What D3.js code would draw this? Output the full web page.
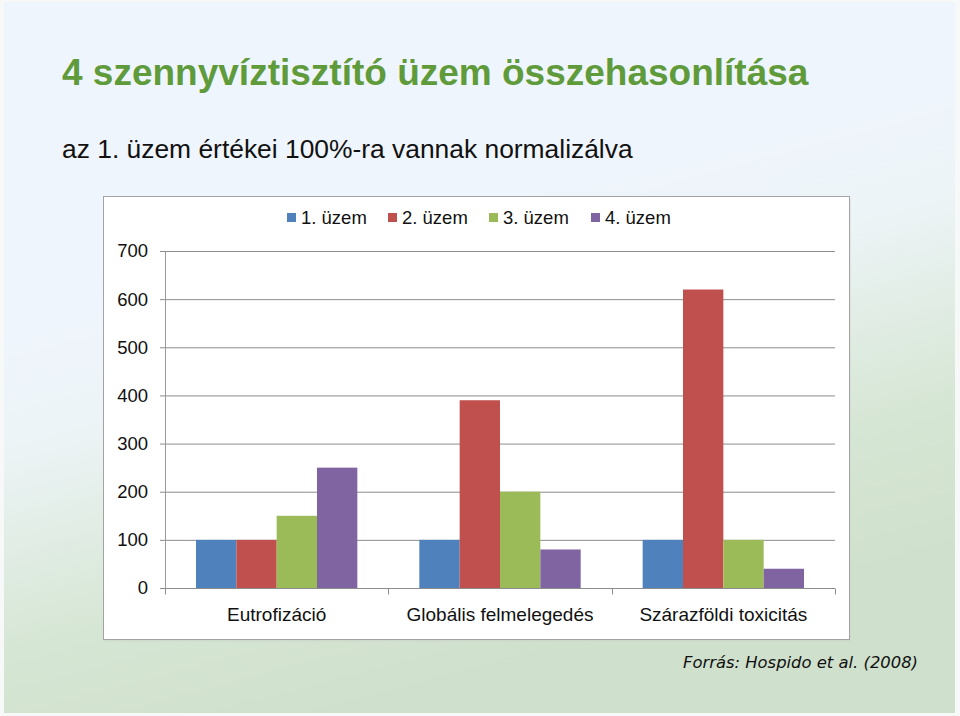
<!DOCTYPE html>
<html><head><meta charset="utf-8">
<script src="https://cdn.jsdelivr.net/npm/d3@7"></script>
<style>html,body{margin:0;padding:0;background:#fff;}svg{display:block;}</style>
</head><body>
<svg id="c" width="960" height="716"></svg>
<script>
const categories = ["Eutrofizáció", "Globális felmelegedés", "Szárazföldi toxicitás"];
const seriesNames = ["1. üzem", "2. üzem", "3. üzem", "4. üzem"];
const seriesColors = ["#4f81bd", "#c0504d", "#9bbb59", "#8064a2"];
const uzem1 = [100, 100, 100];
const uzem2 = [100, 390, 620];
const uzem3 = [150, 200, 100];
const uzem4 = [250, 80, 40];
const yTicks = [0, 100, 200, 300, 400, 500, 600, 700];
const titleText = "4 szennyvíztisztító üzem összehasonlítása";
const subtitleText = "az 1. üzem értékei 100%-ra vannak normalizálva";
const sourceText = "Forrás: Hospido et al. (2008)";

const values = [uzem1, uzem2, uzem3, uzem4];
const svg = d3.select("#c");

// background gradient
const defs = svg.append("defs");
const g = defs.append("linearGradient").attr("id","bg").attr("gradientUnits","userSpaceOnUse")
  .attr("x1",420).attr("y1",190).attr("x2",545).attr("y2",660);
g.append("stop").attr("offset","0").attr("stop-color","#eff5fd");
g.append("stop").attr("offset","0.28").attr("stop-color","#edf4f7");
g.append("stop").attr("offset","0.7").attr("stop-color","#d6e6d4");
g.append("stop").attr("offset","1").attr("stop-color","#cfe0cc");
svg.append("rect").attr("width",960).attr("height",716).attr("fill","#f6f9f7");
svg.append("rect").attr("x",4).attr("y",2).attr("width",951).attr("height",711).attr("fill","url(#bg)");

// titles
svg.append("text").attr("x",62).attr("y",85).attr("font-family","Liberation Sans, Arial, sans-serif")
  .attr("font-weight","bold").attr("font-size",37).attr("fill","#5f9b3b").text(titleText);
svg.append("text").attr("x",62).attr("y",158).attr("font-family","Liberation Sans, Arial, sans-serif")
  .attr("font-size",26.4).attr("fill","#111").text(subtitleText);

// chart box
svg.append("rect").attr("x",104.5).attr("y",197.5).attr("width",746).attr("height",444).attr("fill","#c9d3c9").attr("opacity",0.6);
svg.append("rect").attr("x",103.5).attr("y",196.5).attr("width",746).attr("height",443)
  .attr("fill","#fff").attr("stroke","#a3a3a3");

const x0 = d3.scaleBand().domain(categories).range([165, 835]).padding(0);
const x1 = d3.scaleBand().domain(seriesNames).range([31, x0.bandwidth() - 31]).padding(0);
const y = d3.scaleLinear().domain([0, 700]).range([588, 251]);

const font = "Liberation Sans, Arial, sans-serif";

// gridlines + y axis
const yAxis = d3.axisLeft(y).tickValues(yTicks).tickSize(-(835 - 165)).tickPadding(16).tickFormat(d3.format("d"));
const ga = svg.append("g").attr("transform","translate(165,0)").call(yAxis);
ga.select(".domain").remove();
ga.selectAll(".tick line").attr("stroke","#8c8c8c").attr("x1",-5).attr("x2",670);
ga.selectAll(".tick text").attr("font-family",font).attr("font-size",18.5).attr("fill","#111").attr("x",-17);
svg.append("line").attr("x1",165.5).attr("x2",165.5).attr("y1",251).attr("y2",588).attr("stroke","#9a9a9a");

// bars
const gb = svg.append("g");
categories.forEach((c, ci) => {
  seriesNames.forEach((s, si) => {
    const v = values[si][ci];
    gb.append("rect")
      .attr("x", x0(c) + x1(s))
      .attr("y", y(v))
      .attr("width", x1.bandwidth())
      .attr("height", y(0) - y(v))
      .attr("fill", seriesColors[si]);
  });
});

// x axis
const xAxis = d3.axisBottom(x0).tickSize(0).tickPadding(19);
const gx = svg.append("g").attr("transform","translate(0,588.5)").call(xAxis);
gx.select(".domain").attr("stroke","#8c8c8c").attr("d","M160,0H835");
gx.selectAll(".tick text").attr("font-family",font).attr("font-size",19).attr("fill","#111");
const bounds = categories.map(c => x0(c)).concat([x0(categories[categories.length-1]) + x0.bandwidth()]);
gx.selectAll(".bt").data(bounds).enter().append("line")
  .attr("x1", d => Math.round(d) + 0.5).attr("x2", d => Math.round(d) + 0.5)
  .attr("y1", 0).attr("y2", 6).attr("stroke","#8c8c8c");

// legend
const lg = svg.append("g").attr("transform","translate(287,218)");
const legX = [0, 101, 202, 304];
seriesNames.forEach((s, i) => {
  lg.append("rect").attr("x", legX[i]).attr("y", -5).attr("width", 9).attr("height", 9).attr("fill", seriesColors[i]);
  lg.append("text").attr("x", legX[i] + 14).attr("y", 6).attr("font-family", font).attr("font-size", 18.5).attr("fill", "#111").text(s);
});

// source
svg.append("text").attr("x",683).attr("y",668).attr("font-family","DejaVu Sans, Verdana, sans-serif")
  .attr("font-style","italic").attr("font-size",16.4).attr("fill","#111").text(sourceText);
</script>
</body></html>
